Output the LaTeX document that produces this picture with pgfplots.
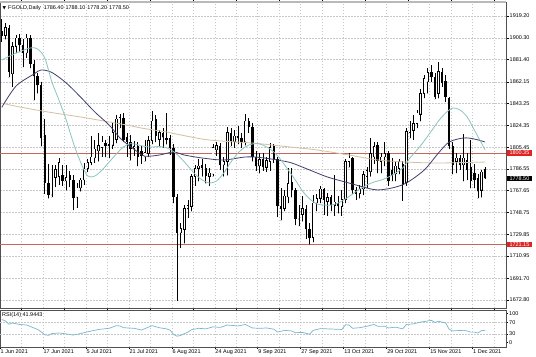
\documentclass[border=0pt]{standalone}
\usepackage{fontspec}
\setmainfont{Liberation Sans}
\newfontfamily\dejavu{DejaVu Sans}
\usepackage{pgfplots}
\usepackage{pgfplotstable}
\pgfplotsset{compat=1.18}

\definecolor{fastma}{RGB}{140,196,190}
\definecolor{midma}{RGB}{64,64,108}
\definecolor{slowma}{RGB}{212,192,162}
\definecolor{lvl}{RGB}{196,104,92}
\definecolor{lvlbox}{RGB}{224,36,36}
\definecolor{rsiline}{RGB}{120,184,206}
\definecolor{gridc}{RGB}{200,200,200}
\definecolor{framec}{RGB}{80,80,80}

\newcommand{\tf}{\fontsize{5.5}{6.5}\selectfont}
\pgfplotsset{candle/.style={only marks, mark=*, mark size=0.01pt, mark options={draw=none, fill=none}}}

\pgfplotstableread{
i o h l c
0 1906 1917 1897 1902
1 1902 1913 1899 1909
2 1909 1911 1866 1871
3 1869 1897 1858 1893
4 1893 1903 1887 1900
5 1900 1904 1888 1894
6 1894 1899 1875 1887
7 1887 1904 1883 1900
8 1900 1903 1874 1878
9 1878 1881 1846 1867
10 1867 1870 1852 1859
11 1859 1862 1806 1813
12 1816 1830 1765 1774
13 1774 1791 1761 1764
14 1764 1790 1762 1783
15 1779 1790 1771 1786
16 1780 1796 1773 1792
17 1781 1790 1772 1776
18 1776 1790 1768 1779
19 1781 1785 1771 1777
20 1777 1781 1751 1761
21 1762 1774 1753 1770
22 1770 1779 1767 1777
23 1777 1792 1773 1787
24 1787 1795 1784 1792
25 1792 1815 1790 1797
26 1796 1812 1792 1804
27 1802 1818 1793 1807
28 1805 1815 1797 1810
29 1809 1812 1797 1806
30 1808 1815 1796 1806
31 1807 1826 1804 1818
32 1812 1833 1809 1830
33 1826 1834 1822 1831
34 1831 1835 1810 1812
35 1814 1818 1797 1810
36 1810 1816 1794 1804
37 1804 1811 1798 1806
38 1806 1810 1789 1797
39 1802 1806 1791 1798
40 1797 1812 1793 1801
41 1800 1815 1797 1811
42 1811 1837 1808 1828
43 1830 1833 1810 1815
44 1812 1820 1806 1818
45 1818 1822 1805 1814
46 1813 1835 1808 1812
47 1813 1816 1799 1805
48 1805 1808 1757 1762
49 1762 1765 1672 1731
50 1731 1740 1718 1735
51 1734 1755 1722 1752
52 1752 1760 1744 1755
53 1754 1782 1750 1780
54 1780 1790 1772 1787
55 1787 1795 1776 1789
56 1790 1795 1780 1787
57 1787 1791 1774 1780
58 1780 1787 1772 1783
59 1782 1808 1780 1805
60 1803 1810 1798 1807
61 1806 1809 1786 1790
62 1790 1797 1780 1793
63 1793 1823 1781 1818
64 1818 1822 1806 1810
65 1810 1820 1805 1815
66 1815 1824 1808 1813
67 1813 1818 1805 1810
68 1810 1834 1807 1828
69 1828 1831 1818 1823
70 1823 1826 1793 1797
71 1797 1802 1785 1789
72 1789 1800 1783 1795
73 1795 1800 1785 1788
74 1788 1797 1784 1794
75 1793 1809 1785 1805
76 1806 1808 1792 1795
77 1795 1797 1745 1754
78 1754 1770 1742 1752
79 1752 1768 1750 1763
80 1762 1787 1757 1774
81 1775 1787 1762 1768
82 1768 1770 1738 1743
83 1743 1755 1737 1751
84 1747 1763 1741 1752
85 1752 1755 1726 1734
86 1734 1740 1721 1727
87 1727 1764 1723 1757
88 1757 1765 1750 1761
89 1761 1772 1757 1769
90 1769 1770 1747 1760
91 1758 1766 1746 1762
92 1762 1764 1750 1755
93 1755 1781 1746 1758
94 1757 1763 1748 1754
95 1754 1768 1746 1760
96 1760 1795 1757 1793
97 1793 1800 1788 1796
98 1796 1797 1765 1768
99 1768 1771 1760 1765
100 1765 1773 1761 1769
101 1769 1785 1764 1782
102 1780 1788 1770 1785
103 1784 1813 1780 1800
104 1797 1810 1791 1806
105 1807 1810 1783 1793
106 1793 1800 1783 1797
107 1797 1810 1789 1800
108 1800 1802 1772 1776
109 1786 1796 1776 1781
110 1782 1793 1776 1789
111 1787 1795 1782 1793
112 1791 1793 1759 1773
113 1775 1822 1772 1819
114 1818 1828 1813 1823
115 1820 1833 1812 1826
116 1826 1838 1822 1835
117 1834 1856 1828 1852
118 1852 1868 1848 1865
119 1862 1874 1852 1870
120 1871 1877 1862 1866
121 1866 1870 1847 1849
122 1852 1879 1848 1871
123 1871 1874 1858 1861
124 1863 1868 1845 1849
125 1848 1849 1804 1806
126 1806 1810 1782 1790
127 1793 1800 1783 1796
128 1796 1799 1786 1790
129 1790 1817 1776 1796
130 1794 1800 1777 1786
131 1788 1812 1770 1776
132 1783 1791 1770 1777
133 1779 1782 1761 1767
134 1768 1786 1762 1784
135 1786.4 1788.1 1778.2 1778.5
}\ohlc

\begin{document}
\begin{tikzpicture}
\useasboundingbox (0,0) rectangle (536bp,357bp);
\fill[white] (0,0) rectangle (536bp,357bp);

% ---------------- main price panel ----------------
\begin{axis}[
  at={(0bp,48.5bp)}, anchor=south west, scale only axis,
  width=506bp, height=306.5bp,
  xmin=-0.5, xmax=140.85, ymin=1665.45, ymax=1931.36,
  clip mode=individual,
  axis line style={draw=framec, line width=0.6bp},
  xtick={-0.5,11.5,...,131.5}, minor xtick={5.5,17.5,...,137.5},
  xmajorticks=false, xminorticks=false,
  xmajorgrids, xminorgrids, ymajorgrids,
  major grid style={gridc, dash pattern=on 1.5bp off 1.5bp, line width=0.5bp},
  minor grid style={gridc, dash pattern=on 1.5bp off 1.5bp, line width=0.5bp},
  ytick={1672.8,1691.7,1710.95,1729.85,1748.75,1767.65,1786.55,1805.45,1824.35,1843.25,1862.15,1881.4,1900.3,1919.2},
  yticklabels={1672.80,1691.70,1710.95,1729.85,1748.75,1767.65,1786.55,1805.45,1824.35,1843.25,1862.15,1881.40,1900.30,1919.20},
  ytick pos=right, yticklabel pos=right,
  tick align=outside, major tick length=2.5bp,
  tick style={black, line width=0.5bp},
  yticklabel style={font=\tf, anchor=west, inner sep=0pt, xshift=1bp},
]
% horizontal levels
\addplot[lvl, line width=0.7bp] coordinates {(-0.5,1800.35) (140.85,1800.35)};
\addplot[lvl, line width=0.7bp] coordinates {(-0.5,1721.15) (140.85,1721.15)};

% wicks
\addplot[candle, error bars/.cd, y dir=plus, y explicit, error mark=none,
  error bar style={draw=black, line width=0.75bp}]
  table[x=i, y=l, y error plus expr={\thisrow{h}-\thisrow{l}}] {\ohlc};
% bearish bodies
\addplot[candle, error bars/.cd, y dir=plus, y explicit, error mark=none,
  error bar style={draw=black, line width=2.4bp}]
  table[x=i, y expr={(\thisrow{c}<\thisrow{o}) ? \thisrow{c} : nan}, y error plus expr={\thisrow{o}-\thisrow{c}}] {\ohlc};
% bullish bodies: outline
\addplot[candle, error bars/.cd, y dir=plus, y explicit, error mark=none,
  error bar style={draw=black, line width=2.4bp}]
  table[x=i, y expr={(\thisrow{c}>=\thisrow{o}) ? \thisrow{o}-0.25 : nan}, y error plus expr={\thisrow{c}-\thisrow{o}+0.5}] {\ohlc};
% bullish bodies: white inside
\addplot[candle, error bars/.cd, y dir=plus, y explicit, error mark=none,
  error bar style={draw=white, line width=1.1bp}]
  table[x=i, y expr={(\thisrow{c}-\thisrow{o}>0.6) ? \thisrow{o}+0.3 : nan}, y error plus expr={\thisrow{c}-\thisrow{o}-0.6}] {\ohlc};

% moving averages
\addplot[slowma, line width=0.8bp, smooth, tension=0.5] coordinates {
(0,1843.6) (5,1840.3) (13,1835.9) (22,1831.6) (30,1827.3) (35,1824.6) (39,1822.0) (46,1818.6) (50,1816.0) (58,1811.6) (70,1809.0) (78,1806.4) (88,1803.0) (97,1798.6) (105,1794.3) (113,1792.5) (122,1791.7) (135,1792.5)};
\addplot[midma, line width=0.8bp, smooth, tension=0.5] coordinates {
(0,1840.0) (4,1858.5) (9,1868.9) (11,1872.4) (14,1870.2) (18,1861.1) (22,1848.9) (26,1835.9) (30,1824.6) (33,1813.4) (35,1808.2) (38,1801.2) (40,1797.5) (44,1798.6) (48,1801.2) (51,1798.6) (56,1796.0) (62,1794.3) (68,1796.9) (72,1796.5) (77,1794.3) (81,1791.7) (86,1785.6) (91,1779.5) (97,1774.3) (102,1770.0) (105,1768.3) (109,1770.0) (113,1774.3) (118,1785.6) (122,1800.4) (125,1809.9) (129,1813.4) (132,1812.5) (135,1809.9)};
\addplot[fastma, line width=0.8bp, smooth, tension=0.5] coordinates {
(0,1881.0) (4,1887.1) (8,1891.5) (10,1890.6) (12,1882.8) (14,1862.0) (16,1846.0) (18,1829.0) (20,1809.0) (22,1792.5) (24,1780.4) (26,1780.4) (28,1785.6) (30,1792.5) (32,1799.5) (34,1805.6) (36,1808.5) (38,1807.5) (40,1806.0) (42,1805.5) (44,1806.0) (46,1805.0) (48,1801.5) (50,1796.0) (52,1789.1) (54,1782.1) (56,1776.9) (58,1774.3) (60,1776.1) (62,1783.0) (64,1792.5) (66,1800.4) (68,1805.6) (70,1808.2) (72,1808.2) (74,1805.6) (76,1801.2) (78,1794.3) (80,1785.6) (82,1776.9) (84,1767.4) (86,1760.5) (88,1756.1) (90,1755.2) (92,1755.2) (94,1757.0) (96,1760.5) (98,1764.8) (100,1769.1) (102,1772.6) (104,1775.2) (106,1776.9) (108,1779.5) (110,1783.0) (112,1787.3) (114,1796.0) (116,1803.0) (118,1810.8) (120,1819.4) (122,1828.1) (124,1835.1) (126,1839.4) (128,1837.7) (130,1831.6) (132,1820.3) (134,1809.0) (135,1803.0)};

% frame extras
\draw[framec, line width=1.5bp] (rel axis cs:0,0) -- (rel axis cs:1,0);
\draw[gray!55, line width=2bp] (rel axis cs:0,1) -- (rel axis cs:1,1);
% title
\node[anchor=west, inner sep=0pt, font=\tf] at (rel axis cs:0.005,0.980)
  {{\dejavu\fontsize{4.5}{6}\selectfont ▼}\hspace{2bp}FGOLD,Daily\hspace{3bp}1786.40\hspace{2bp}1788.10\hspace{2bp}1778.20\hspace{2bp}1778.50};
% price boxes
\node[anchor=west, fill=lvlbox, text=white, font=\tf, inner xsep=2.3bp, inner ysep=0.6bp, xshift=1bp] at (axis cs:140.85,1800.35) {1800.35};
\node[anchor=west, fill=lvlbox, text=white, font=\tf, inner xsep=2.3bp, inner ysep=0.6bp, xshift=1bp] at (axis cs:140.85,1721.15) {1721.15};
\node[anchor=west, fill=black, text=white, font=\tf, inner xsep=2.3bp, inner ysep=0.6bp, xshift=1bp] at (axis cs:140.85,1778.5) {1778.50};
\end{axis}

% ---------------- RSI panel ----------------
\begin{axis}[
  at={(0bp,10bp)}, anchor=south west, scale only axis,
  width=506bp, height=37bp,
  xmin=-0.5, xmax=140.85, ymin=-14.6, ymax=111.2,
  clip mode=individual,
  axis line style={draw=framec, line width=0.6bp},
  xtick={-0.5,11.5,...,131.5},
  xticklabels={1 Jun 2021,17 Jun 2021,5 Jul 2021,21 Jul 2021,6 Aug 2021,24 Aug 2021,9 Sep 2021,27 Sep 2021,13 Oct 2021,29 Oct 2021,15 Nov 2021,1 Dec 2021},
  minor xtick={5.5,17.5,...,137.5},
  xmajorgrids, xminorgrids,
  major grid style={gridc, dash pattern=on 1.5bp off 1.5bp, line width=0.5bp},
  minor grid style={gridc, dash pattern=on 1.5bp off 1.5bp, line width=0.5bp},
  xtick pos=bottom, ytick pos=right, yticklabel pos=right,
  ytick={0,30,70,100}, yticklabels={0,30,70,100},
  tick align=outside, major tick length=2bp, minor tick length=0pt,
  tick style={black, line width=0.5bp},
  xticklabel style={font=\tf, anchor=north west, inner sep=0pt, xshift=0.5bp, yshift=-0.5bp},
  yticklabel style={font=\tf, anchor=west, inner sep=0pt, xshift=1bp},
]
\addplot[gridc, dash pattern=on 1.5bp off 1.5bp, line width=0.5bp] coordinates {(-0.5,70) (140.85,70)};
\addplot[gridc, dash pattern=on 1.5bp off 1.5bp, line width=0.5bp] coordinates {(-0.5,30) (140.85,30)};
\addplot[rsiline, line width=0.7bp] coordinates {
(0,79) (1,74) (2,63) (3,67) (5,62) (7,60) (8,55) (10,45) (11,37) (12,27) (13,25) (14,31) (16,33) (18,30) (20,26) (22,31) (24,37) (27,45) (30,49) (32,58) (33,57) (34,51) (37,49) (39,43) (42,58) (44,51) (46,47) (47,43) (48,28) (49,22) (50,25) (52,36) (53,44) (55,49) (57,47) (59,54) (61,52) (63,60) (65,58) (66,57) (68,62) (70,50) (72,49) (74,50) (76,46) (77,36) (79,42) (81,40) (82,34) (84,35) (86,29) (87,42) (89,48) (91,47) (93,46) (95,45) (96,61) (97,60) (98,49) (100,51) (102,56) (103,59) (104,62) (105,56) (107,56) (108,50) (110,53) (112,47) (113,62) (115,64) (117,70) (119,74) (120,76) (121,69) (122,73) (124,67) (125,45) (126,40) (127,41) (129,42) (130,40) (131,36) (132,36) (133,33) (134,41) (135,41.94)};
\node[anchor=west, inner sep=0pt, font=\tf] at (rel axis cs:0.004,0.86) {RSI(14) 41.9443};
\end{axis}
\end{tikzpicture}
\end{document}
